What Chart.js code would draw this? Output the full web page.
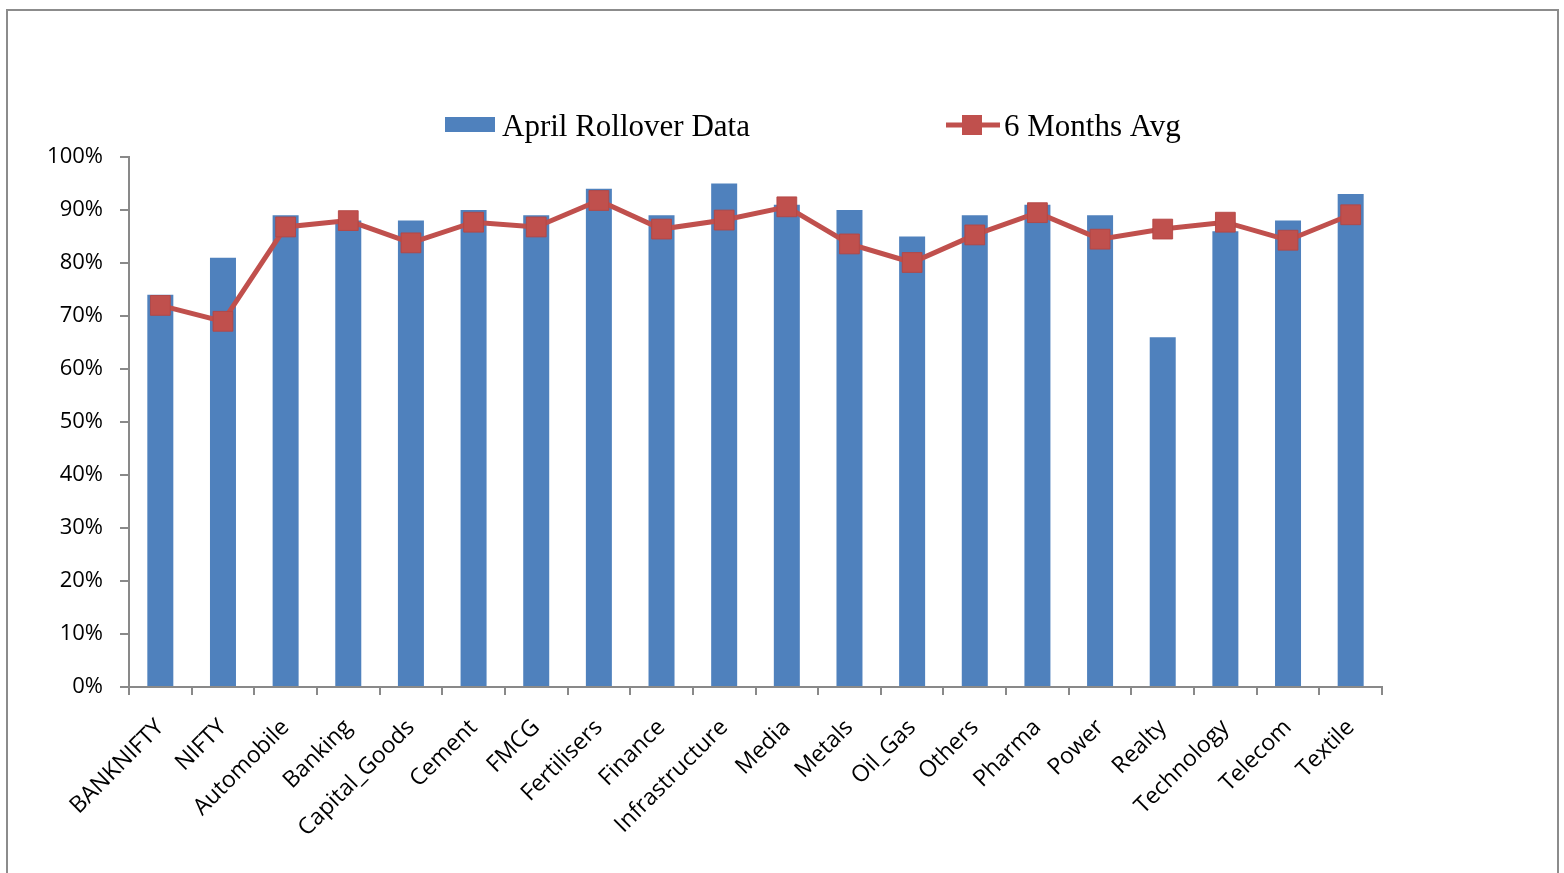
<!DOCTYPE html>
<html>
<head>
<meta charset="utf-8">
<script src="https://cdn.jsdelivr.net/npm/chart.js@4.4.1/dist/chart.umd.min.js"></script>
<style>
  html, body { margin: 0; padding: 0; background: #fff; overflow: hidden; }
  #frame { position: absolute; left: 6px; top: 9px; width: 1553px; height: 900px; border: 2px solid #8c8c8c; box-sizing: border-box; }
  #wrap { position: absolute; left: 0; top: 0; width: 1564px; height: 873px; }
</style>
</head>
<body>
<div id="frame"></div>
<div id="wrap"><canvas id="chart" width="1564" height="873"></canvas></div>
<script>
const sectors = ['BANKNIFTY', 'NIFTY', 'Automobile', 'Banking', 'Capital_Goods', 'Cement', 'FMCG',
  'Fertilisers', 'Finance', 'Infrastructure', 'Media', 'Metals', 'Oil_Gas', 'Others', 'Pharma',
  'Power', 'Realty', 'Technology', 'Telecom', 'Textile'];
const aprilRollover = [74, 81, 89, 88, 88, 90, 89, 94, 89, 95, 91, 90, 85, 89, 91, 89, 66, 86, 88, 93];
const sixMonthAvg = [72, 69, 86.8, 88, 83.8, 87.7, 86.8, 91.8, 86.4, 88.1, 90.6, 83.6, 80.1, 85.3, 89.5, 84.5, 86.4, 87.7, 84.3, 89.1];
const yTicks = [0, 10, 20, 30, 40, 50, 60, 70, 80, 90, 100];

const blue = '#4F81BD';
const red = '#C0504D';
const axisGray = '#898989';

// legend drawn by hand so the wide spacing of the original can be kept
const legendPlugin = {
  id: 'sheetLegend',
  afterDraw(chart) {
    const ctx = chart.ctx;
    ctx.save();
    ctx.fillStyle = blue;
    ctx.fillRect(445, 117, 50, 15);
    ctx.strokeStyle = red;
    ctx.lineWidth = 5;
    ctx.beginPath();
    ctx.moveTo(946, 125);
    ctx.lineTo(1000, 125);
    ctx.stroke();
    ctx.fillStyle = red;
    ctx.fillRect(962, 115, 20, 20);
    ctx.fillStyle = '#000';
    ctx.font = '31px "Liberation Serif", "Times New Roman", serif';
    ctx.textBaseline = 'middle';
    ctx.fillText(chart.data.datasets[0].label, 502, 128);
    ctx.fillText(chart.data.datasets[1].label, 1004, 128);
    ctx.restore();
  }
};

new Chart(document.getElementById('chart'), {
  type: 'bar',
  data: {
    labels: sectors,
    datasets: [
      {
        label: 'April Rollover Data',
        data: aprilRollover,
        backgroundColor: blue,
        barPercentage: 0.415,
        categoryPercentage: 1,
        order: 2
      },
      {
        type: 'line',
        label: '6 Months Avg',
        data: sixMonthAvg,
        borderColor: red,
        borderWidth: 5,
        pointStyle: 'rect',
        pointRadius: 14,
        pointBackgroundColor: red,
        pointBorderColor: 'rgba(180,70,68,0.9)',
        pointBorderWidth: 1,
        tension: 0,
        order: 1
      }
    ]
  },
  options: {
    responsive: false,
    animation: false,
    layout: { padding: { top: 157, left: 0, right: 182, bottom: 0 } },
    plugins: {
      legend: { display: false },
      tooltip: { enabled: false }
    },
    scales: {
      x: {
        offset: true,
        grid: { display: true, drawOnChartArea: false, offset: true, tickLength: 8, color: axisGray, lineWidth: 2 },
        border: { color: axisGray, width: 2 },
        ticks: {
          color: '#000',
          minRotation: 45,
          maxRotation: 45,
          padding: 19,
          autoSkip: false,
          font: { family: '"Open Sans", sans-serif', size: 23 }
        },
        afterFit(s) { s.height = 186; s.paddingLeft = 0; s.paddingRight = 0; }
      },
      y: {
        min: 0,
        max: 100,
        afterBuildTicks(s) { s.ticks = yTicks.map(v => ({ value: v })); },
        grid: { display: true, drawOnChartArea: false, tickLength: 9, color: axisGray, lineWidth: 2 },
        border: { color: axisGray, width: 2 },
        ticks: {
          color: '#000',
          padding: 17,
          callback: v => v + '%',
          font: { family: '"Open Sans", sans-serif', size: 22 }
        },
        afterFit(s) { s.width = 129; s.paddingTop = 0; s.paddingBottom = 0; }
      }
    }
  },
  plugins: [legendPlugin]
});
</script>
</body>
</html>
